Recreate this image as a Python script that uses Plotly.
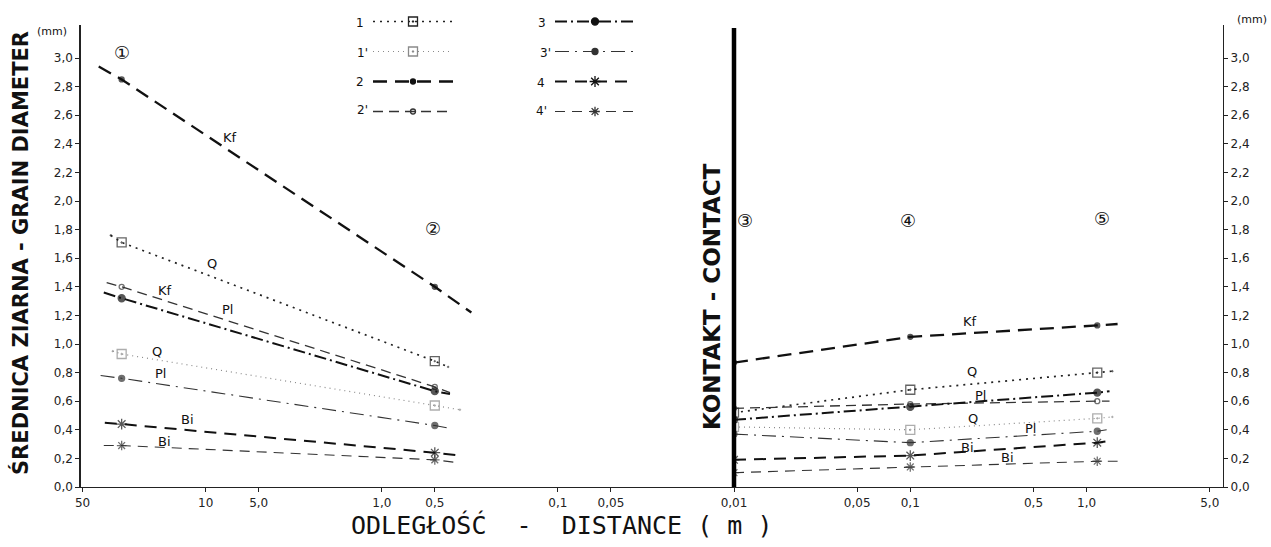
import plotly.graph_objects as go

# ---------------- data ----------------
SERIES = ["1", "1'", "2", "2'", "3", "3'", "4", "4'"]
MINERAL = ["Q", "Q", "Kf", "Kf", "Pl", "Pl", "Bi", "Bi"]

# left part: distance from contact (m), stations (1) and (2)
LEFT_X = [30, 0.5]
LEFT_START_X = [34.6, 33.7, 40.5, 36.5, 37.9, 39.5, 37.4, 37.9]
LEFT_START_Y = [1.76, 0.95, 2.94, 1.43, 1.36, 0.78, 0.45, 0.29]
LEFT_ST1 = [1.71, 0.93, 2.85, 1.40, 1.32, 0.76, 0.44, 0.29]
LEFT_ST2 = [0.88, 0.57, 1.40, 0.70, 0.67, 0.43, 0.24, 0.19]
LEFT_END_X = [0.42, 0.36, 0.31, 0.41, 0.41, 0.41, 0.36, 0.37]
LEFT_END_Y = [0.84, 0.54, 1.22, 0.66, 0.65, 0.41, 0.22, 0.17]

# right part: stations (3) (4) (5)
RIGHT_X = [0.01, 0.1, 1.15]
RIGHT_ST3 = [0.52, 0.42, 0.87, 0.55, 0.47, 0.37, 0.19, 0.10]
RIGHT_ST4 = [0.68, 0.40, 1.05, 0.58, 0.56, 0.31, 0.22, 0.14]
RIGHT_ST5 = [0.80, 0.48, 1.13, 0.60, 0.66, 0.39, 0.31, 0.18]
RIGHT_END_X = [1.4, 1.4, 1.5, 1.35, 1.35, 1.3, 1.3, 1.5]
RIGHT_END_Y = [0.81, 0.49, 1.14, 0.60, 0.67, 0.40, 0.32, 0.18]

Y_TICKS = [0.0, 0.2, 0.4, 0.6, 0.8, 1.0, 1.2, 1.4, 1.6, 1.8, 2.0, 2.2, 2.4, 2.6, 2.8, 3.0]
Y_TICKTEXT = ["0,0", "0,2", "0,4", "0,6", "0,8", "1,0", "1,2", "1,4", "1,6", "1,8",
              "2,0", "2,2", "2,4", "2,6", "2,8", "3,0"]
XL_TICKS = [50, 10, 5, 1, 0.5, 0.1, 0.05]
XL_TICKTEXT = ["50", "10", "5,0", "1,0", "0,5", "0,1", "0,05"]
XR_TICKS = [0.01, 0.05, 0.1, 0.5, 1, 5]
XR_TICKTEXT = ["0,01", "0,05", "0,1", "0,5", "1,0", "5,0"]

# ---------------- styles ----------------
STYLE = {
    "1":  dict(color="#222", width=1.7, dash="2px,5px", symbol="square-open-dot", ms=9),
    "1'": dict(color="#8a8a8a", width=1.2, dash="1px,4px", symbol="square-open-dot", ms=9),
    "2":  dict(color="#111", width=2.3, dash="14px,8px", symbol="circle", ms=5),
    "2'": dict(color="#333", width=1.3, dash="10px,6px", symbol="circle-open", ms=5),
    "3":  dict(color="#111", width=2.0, dash="12px,4px,2px,4px", symbol="circle", ms=7),
    "3'": dict(color="#333", width=1.1, dash="14px,6px,2px,6px", symbol="circle", ms=6),
    "4":  dict(color="#111", width=2.0, dash="12px,8px", symbol="asterisk-open", ms=9),
    "4'": dict(color="#333", width=1.1, dash="10px,7px", symbol="asterisk-open", ms=8),
}

W, H = 1271, 547
ML, MR, MT, MB = 81, 48, 25, 60
PW, PH = W - ML - MR, H - MT - MB
X0_PX = 734  # contact line
YMAX = PH / 143.0


def px(x):
    return (x - ML) / PW


def py(y):
    return (H - MB - y) / PH


FONT = "DejaVu Sans"
fig = go.Figure()

for i, s in enumerate(SERIES):
    st = STYLE[s]
    line = dict(color=st["color"], width=st["width"], dash=st["dash"])

    def mk(sizes):
        return dict(symbol=st["symbol"], size=sizes, color=st["color"],
                    line=dict(color=st["color"], width=1.3))
    # left side
    fig.add_trace(go.Scatter(
        x=[LEFT_START_X[i], LEFT_X[0], LEFT_X[1], LEFT_END_X[i]],
        y=[LEFT_START_Y[i], LEFT_ST1[i], LEFT_ST2[i], LEFT_END_Y[i]],
        mode="lines+markers", line=line, marker=mk([0, st["ms"], st["ms"], 0]),
        xaxis="x", yaxis="y", showlegend=False, name=s, hoverinfo="x+y"))
    # right side
    fig.add_trace(go.Scatter(
        x=[RIGHT_X[0], RIGHT_X[1], RIGHT_X[2], RIGHT_END_X[i]],
        y=[RIGHT_ST3[i], RIGHT_ST4[i], RIGHT_ST5[i], RIGHT_END_Y[i]],
        mode="lines+markers", line=line, marker=mk([st["ms"], st["ms"], st["ms"], 0]),
        xaxis="x2", yaxis="y2", showlegend=False, name=s, hoverinfo="x+y"))
    # legend entry
    fig.add_trace(go.Scatter(
        x=[None], y=[None], mode="lines+markers", line=line, marker=mk(st["ms"]),
        xaxis="x", yaxis="y", name="", legendgroup=s, showlegend=True,
        legend="legend" if i < 4 else "legend2"))

tickfont = dict(family=FONT, size=12, color="#222")
common_y = dict(range=[0, YMAX], tickvals=Y_TICKS, ticktext=Y_TICKTEXT,
                tickfont=tickfont, showgrid=False, zeroline=False, showline=True,
                linecolor="#222", ticks="outside", ticklen=4, tickcolor="#222")
common_x = dict(type="log", tickfont=tickfont, showgrid=False, zeroline=False,
                showline=True, linecolor="#222", linewidth=1.2, ticks="outside",
                ticklen=4, tickcolor="#222")
fig.update_layout(
    width=W, height=H,
    margin=dict(l=ML, r=MR, t=MT, b=MB, autoexpand=False),
    paper_bgcolor="white", plot_bgcolor="white",
    font=dict(family=FONT, color="#111"),
    xaxis=dict(common_x, domain=[0, px(X0_PX)], range=[1.708, -2],
               tickvals=XL_TICKS, ticktext=XL_TICKTEXT, anchor="y"),
    xaxis2=dict(common_x, domain=[px(X0_PX), 1], range=[-2, 0.774],
                tickvals=XR_TICKS, ticktext=XR_TICKTEXT, anchor="y2"),
    yaxis=dict(common_y, linewidth=1.5, anchor="x", side="left"),
    yaxis2=dict(common_y, linewidth=1.2, anchor="x2", side="right"),
    legend=dict(x=px(368), y=py(7), xanchor="left", yanchor="top", itemwidth=80,
                bgcolor="rgba(0,0,0,0)", tracegroupgap=11, font=dict(size=12)),
    legend2=dict(x=px(550), y=py(7), xanchor="left", yanchor="top", itemwidth=80,
                 bgcolor="rgba(0,0,0,0)", tracegroupgap=11, font=dict(size=12)),
    showlegend=True,
)

# contact line
fig.add_shape(type="line", xref="paper", yref="paper", x0=px(X0_PX), x1=px(X0_PX),
              y0=0, y1=py(28), line=dict(color="#000", width=4.5))

ann = []


def A(x, y, t, size=13, family=FONT, **kw):
    ann.append(dict(x=px(x), y=py(y), xref="paper", yref="paper", text=t,
                    xanchor="center", yanchor="middle", showarrow=False,
                    font=dict(family=family, size=size, color="#111"), **kw))


# axis titles
A(20, 253, "<b>ŚREDNICA ZIARNA - GRAIN DIAMETER</b>", size=21, textangle=-90)
A(712, 297, "<b>KONTAKT - CONTACT</b>", size=23, textangle=-90)
A(561, 525, "ODLEGŁOŚĆ\u00a0 - \u00a0DISTANCE ( m )", size=25, family="DejaVu Sans Mono")
A(52, 31, "(mm)", size=11)
A(1252, 20, "(mm)", size=11)
# stations
for (x, y, t) in [(122, 53, "①"), (433, 228, "②"), (745, 220, "③"),
                  (908, 221, "④"), (1102, 218, "⑤")]:
    A(x, y, t, size=18)
# legend numbers
for (x, y, t) in [(360, 23, "1"), (362, 53, "1'"), (360, 82, "2"), (362, 110, "2'"),
                  (542, 23, "3"), (545, 53, "3'"), (541, 83, "4"), (541, 111, "4'")]:
    A(x, y, t, size=12)
# mineral labels
for (x, y, t) in [(230, 137, "Kf"), (212, 263, "Q"), (165, 290, "Kf"), (227, 310, "Pl"),
                  (157, 351, "Q"), (160, 373, "Pl"), (187, 419, "Bi"), (164, 441, "Bi"),
                  (970, 322, "Kf"), (972, 372, "Q"), (980, 395, "Pl"), (973, 418, "Q"),
                  (1030, 428, "Pl"), (967, 447, "Bi"), (1007, 457, "Bi")]:
    A(x, y, t, size=13)

fig.update_layout(annotations=ann)
fig.write_html("out.html")
